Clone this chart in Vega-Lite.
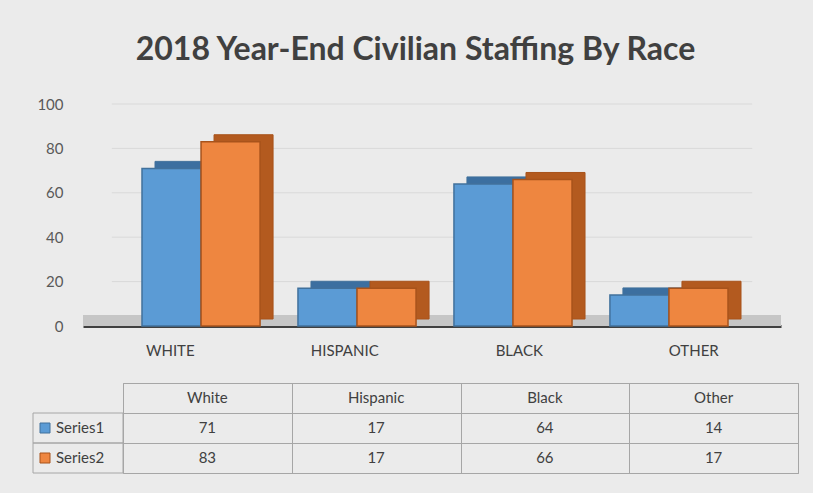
{
  "$schema": "https://vega.github.io/schema/vega-lite/v6.json",
  "background": "#ebebeb",
  "padding": {"left": 32, "top": 34, "right": 16, "bottom": 20},
  "config": {"font": "Lato", "view": {"stroke": null}},
  "title": {"text": "2018 Year-End Civilian Staffing By Race", "fontSize": 32, "fontWeight": "bold", "color": "#404040", "anchor": "middle", "offset": 30, "limit": 0, "letterSpacing": 0.5},
  "datasets": {
    "staff": [
      {"race": "White", "series": "Series1", "value": 71},
      {"race": "White", "series": "Series2", "value": 83},
      {"race": "Hispanic", "series": "Series1", "value": 17},
      {"race": "Hispanic", "series": "Series2", "value": 17},
      {"race": "Black", "series": "Series1", "value": 64},
      {"race": "Black", "series": "Series2", "value": 66},
      {"race": "Other", "series": "Series1", "value": 14},
      {"race": "Other", "series": "Series2", "value": 17}
    ],
    "levels": [{"level": 20}, {"level": 40}, {"level": 60}, {"level": 80}, {"level": 100}],
    "seriesList": [{"series": "Series1"}, {"series": "Series2"}]
  },
  "bounds": "flush",
  "spacing": 57,
  "vconcat": [
    {
      "width": 765,
      "height": 222,
      "resolve": {"scale": {"x": "independent", "xOffset": "independent"}, "axis": {"x": "independent"}},
      "layer": [
        {
          "data": {"name": "levels"},
          "mark": {"type": "rule", "color": "#d9d9d9", "strokeWidth": 1},
          "encoding": {
            "y": {"field": "level", "type": "quantitative", "scale": {"domain": [0, 100], "nice": false}, "axis": {"values": [0, 20, 40, 60, 80, 100], "grid": false, "domain": false, "ticks": false, "labelFontSize": 15, "labelColor": "#595959", "labelPadding": 20, "offset": -50, "title": null}},
            "x": {"datum": "White", "bandPosition": 0, "scale": {"domain": ["White", "Hispanic", "Black", "Other"], "range": [50, 748], "paddingInner": 0.33, "paddingOuter": 0.165}, "axis": {"title": null, "labelExpr": "upper(datum.label)", "ticks": false, "domainColor": "#404040", "domainWidth": 3, "labelFontSize": 15, "labelColor": "#404040", "labelPadding": 17, "labelAngle": 0}},
            "x2": {"datum": "Other", "bandPosition": 1}
          }
        },
        {
          "data": {"name": "staff"},
          "mark": {"type": "rect", "color": "#c6c6c6"},
          "encoding": {
            "x": {"datum": "White", "bandPosition": 0, "scale": {"domain": ["White", "Hispanic", "Black", "Other"], "range": [50, 748], "paddingInner": 0, "paddingOuter": 0}, "axis": null},
            "x2": {"datum": "Other", "bandPosition": 1},
            "y": {"datum": 0},
            "y2": {"datum": 5}
          }
        },
        {
          "data": {"name": "staff"},
          "mark": {"type": "bar", "yOffset": -7, "strokeWidth": 1},
          "encoding": {
            "x": {"field": "race", "type": "nominal", "scale": {"domain": ["White", "Hispanic", "Black", "Other"], "range": [122, 708], "paddingInner": 0.243, "paddingOuter": 0}, "axis": null},
            "xOffset": {"field": "series", "type": "nominal", "scale": {"domain": ["Series1", "Series2"]}},
            "y": {"field": "value", "type": "quantitative"},
            "color": {"field": "series", "type": "nominal", "scale": {"domain": ["Series1", "Series2"], "range": ["#3c6fa0", "#b35a1f"]}, "legend": null},
            "stroke": {"field": "series", "type": "nominal", "scale": {"domain": ["Series1", "Series2"], "range": ["#41719c", "#a8531b"]}, "legend": null}
          }
        },
        {
          "data": {"name": "staff"},
          "mark": {"type": "bar", "strokeWidth": 1.5},
          "encoding": {
            "x": {"field": "race", "type": "nominal", "scale": {"domain": ["White", "Hispanic", "Black", "Other"], "range": [109, 695], "paddingInner": 0.243, "paddingOuter": 0}, "axis": null},
            "xOffset": {"field": "series", "type": "nominal", "scale": {"domain": ["Series1", "Series2"]}},
            "y": {"field": "value", "type": "quantitative"},
            "fill": {"field": "series", "type": "nominal", "scale": {"domain": ["Series1", "Series2"], "range": ["#5b9bd5", "#ee8640"]}, "legend": null},
            "stroke": {"field": "series", "type": "nominal", "legend": null}
          }
        }
      ]
    },
    {
      "hconcat": [
        {
          "width": 90,
          "height": 90,
          "data": {"name": "seriesList"},
          "layer": [
            {
              "mark": {"type": "rect", "fill": "transparent", "stroke": "#a6a6a6", "strokeWidth": 1},
              "encoding": {
                "y": {"field": "series", "type": "nominal", "scale": {"domain": ["hdr", "Series1", "Series2"], "paddingInner": 0, "paddingOuter": 0}, "axis": null}
              }
            },
            {
              "mark": {"type": "point", "shape": "square", "filled": true, "size": 100, "opacity": 1, "strokeWidth": 1},
              "encoding": {
                "x": {"datum": "key", "scale": {"type": "point", "domain": ["key", "label"], "range": [12, 23], "padding": 0}, "axis": null},
                "y": {"field": "series", "type": "nominal"},
                "fill": {"field": "series", "type": "nominal", "legend": null},
                "stroke": {"field": "series", "type": "nominal", "legend": null}
              }
            },
            {
              "mark": {"type": "text", "align": "left", "baseline": "middle", "fontSize": 15, "color": "#404040"},
              "encoding": {
                "x": {"datum": "label"},
                "y": {"field": "series", "type": "nominal"},
                "text": {"field": "series"}
              }
            }
          ]
        },
        {
          "width": 675,
          "height": 90,
          "data": {"name": "staff"},
          "view": {"stroke": "#a6a6a6"},
          "layer": [
            {
              "mark": {"type": "text", "fontSize": 15, "color": "#404040", "baseline": "middle"},
              "encoding": {
                "x": {"field": "race", "type": "nominal", "scale": {"domain": ["White", "Hispanic", "Black", "Other"], "paddingInner": 0, "paddingOuter": 0}, "axis": {"orient": "top", "grid": true, "tickBand": "extent", "labels": false, "ticks": false, "domain": false, "title": null, "gridColor": "#a6a6a6"}},
                "y": {"field": "series", "type": "nominal", "scale": {"domain": ["hdr", "Series1", "Series2"], "paddingInner": 0, "paddingOuter": 0}, "axis": {"grid": true, "tickBand": "extent", "labels": false, "ticks": false, "domain": false, "title": null, "gridColor": "#a6a6a6"}},
                "text": {"field": "value"}
              }
            },
            {
              "transform": [{"filter": "datum.series == 'Series1'"}],
              "mark": {"type": "text", "fontSize": 15, "color": "#404040", "baseline": "middle"},
              "encoding": {
                "x": {"field": "race", "type": "nominal"},
                "y": {"datum": "hdr"},
                "text": {"field": "race"}
              }
            }
          ]
        }
      ],
      "spacing": 0,
      "bounds": "flush"
    }
  ]
}
